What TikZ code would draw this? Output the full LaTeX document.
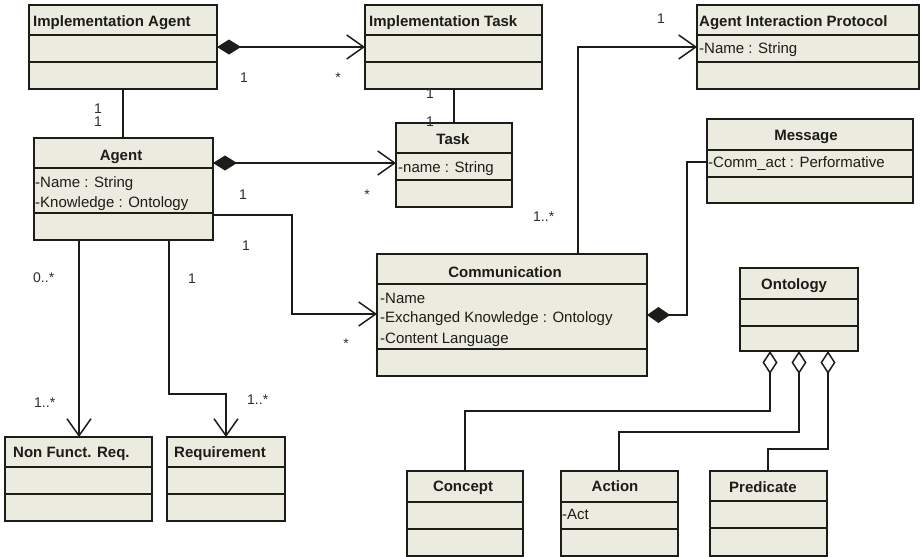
\documentclass[tikz,border=0pt]{standalone}
\usepackage{fontspec}
\setmainfont{Liberation Sans}
\usetikzlibrary{arrows.meta}
\definecolor{clsfill}{RGB}{236,235,224}
\definecolor{ink}{RGB}{28,28,24}
\definecolor{labelink}{RGB}{45,45,45}

% UML class box: name, left, top, right, bottom, first divider, second divider
\newcommand\umlclass[7]{%
  \node[clsbox, minimum width={#4-#2}, minimum height={#5-#3}] (#1) at (#2,#3) {};
  \draw[boxline] (#2,#6) -- (#4,#6) (#2,#7) -- (#4,#7);
}

\begin{document}
\begin{tikzpicture}[x=1pt,y=-1pt,
  clsbox/.style={draw=ink, fill=clsfill, line width=1.5pt, rectangle,
                 inner sep=0pt, outer sep=0pt, anchor=north west},
  boxline/.style={draw=ink, line width=1.5pt},
  title/.style={font=\fontsize{15}{15}\selectfont\bfseries, text=ink, inner sep=0pt},
  attr/.style={font=\fontsize{15}{15}\selectfont, text=ink, inner sep=0pt, anchor=base west},
  mult/.style={font=\fontsize{14}{14}\selectfont, text=labelink, inner sep=0pt, anchor=base},
  conn/.style={draw=ink, line width=1.5pt},
  navig/.style={conn, arrows={-Straight Barb[length=17pt,width=24pt]}},
  compnav/.style={conn, arrows={Diamond[length=24pt,width=15pt]-Straight Barb[length=17pt,width=24pt]}},
  comp/.style={conn, arrows={Diamond[length=23pt,width=16pt]-}},
  aggr/.style={conn, arrows={Diamond[open,fill=white,length=23pt,width=15pt]-}},
]
\fill[white] (0,0) rectangle (922,557);
\useasboundingbox (0,0) rectangle (922,557);

% class boxes
\umlclass{ia}{29}{5}{217}{89}{35}{62}
\umlclass{it}{365}{5}{542}{89}{35}{62}
\umlclass{aip}{697}{5}{919}{89}{35}{62}
\umlclass{msg}{707}{119}{913}{203}{150}{177}
\umlclass{agent}{34}{138}{213}{240}{168}{213}
\umlclass{task}{396}{123}{512}{207}{153}{180}
\umlclass{comm}{377}{254}{647}{376}{284}{349}
\umlclass{ont}{740}{268}{858}{351}{299}{326}
\umlclass{nfr}{5}{437}{152}{521}{467}{494}
\umlclass{req}{167}{437}{285}{521}{467}{494}
\umlclass{concept}{407}{471}{523}{556}{502}{529}
\umlclass{action}{561}{471}{678}{556}{502}{529}
\umlclass{pred}{710}{471}{827}{556}{501}{528}

% class names
\node[title, anchor=base west] (iat) at (33,26) {Implementation Agent};
\node[title, anchor=base west] (itt) at (369,26) {Implementation Task};
\node[title, anchor=base west] (aipt) at (699,26) {Agent Interaction Protocol};
\node[title, anchor=base] (msgt) at (806,140) {Message};
\node[title, anchor=base] (agentt) at (121,160) {Agent};
\node[title, anchor=base] (taskt) at (453,144) {Task};
\node[title, anchor=base] (commt) at (505,277) {Communication};
\node[title, anchor=base west] (ontt) at (761,289) {Ontology};
\node[title, anchor=base west] (nfrt) at (13,457) {Non Funct. Req.};
\node[title, anchor=base west] (reqt) at (174,457) {Requirement};
\node[title, anchor=base] (conceptt) at (463,491) {Concept};
\node[title, anchor=base] (actiont) at (615,491) {Action};
\node[title, anchor=base west] (predt) at (729,492) {Predicate};

% attributes
\node[attr] (a1) at (35,187) {-Name : String};
\node[attr] (a2) at (35,207) {-Knowledge : Ontology};
\node[attr] (t1) at (398,172) {-name : String};
\node[attr] (p1) at (699,53) {-Name : String};
\node[attr] (m1) at (708,167) {-Comm\_act : Performative};
\node[attr] (c1) at (380,303) {-Name};
\node[attr] (c2) at (380,322) {-Exchanged Knowledge : Ontology};
\node[attr] (c3) at (380,343) {-Content Language};
\node[attr] (x1) at (562,519) {-Act};

% associations
\draw[compnav] (ia.east |- 0,47) -- (it.west |- 0,47);
\draw[conn] (ia.south) -- (ia.south |- agent.north);
\draw[conn] (task.north |- it.south) -- (task.north);
\draw[compnav] (agent.east |- 0,163) -- (task.west |- 0,163);
\draw[navig] (agent.east |- 0,215) -| (292,314) -- (comm.west |- 0,314);
\draw[navig] (comm.north -| 578,0) |- (aip.west |- 0,47);
\draw[comp] (comm.east |- 0,315) -| (687,162) -- (msg.west |- 0,162);
\draw[navig] (agent.south -| 79,0) -- (nfr.north -| 79,0);
\draw[navig] (agent.south -| 169,0) |- (226,394) -- (req.north -| 226,0);
\draw[aggr] (ont.south -| 770,0) |- (465,411) -- (concept.north);
\draw[aggr] (ont.south -| 799,0) |- (619,432) -- (action.north -| 619,0);
\draw[aggr] (ont.south -| 828,0) |- (768,449) -- (pred.north -| 768,0);

% multiplicities
\node[mult] (m-ia-it) at (244,82) {1};
\node[mult] (m-it-ia) at (338,82) {*};
\node[mult] (m-ia-ag) at (98,113) {1};
\node[mult] (m-ag-ia) at (98,126) {1};
\node[mult] (m-it-tk) at (430,98) {1};
\node[mult] (m-tk-it) at (430,126) {1};
\node[mult] (m-ag-tk) at (243,199) {1};
\node[mult] (m-tk-ag) at (367,199) {*};
\node[mult] (m-ag-cm) at (246,250) {1};
\node[mult] (m-cm-ag) at (346,348) {*};
\node[mult, anchor=base west] (m-cm-ip) at (533,221) {1..*};
\node[mult] (m-ip-cm) at (661,23) {1};
\node[mult, anchor=base west] (m-ag-nf) at (33,282) {0..*};
\node[mult, anchor=base west] (m-nf-ag) at (34,407) {1..*};
\node[mult] (m-ag-rq) at (192,283) {1};
\node[mult, anchor=base west] (m-rq-ag) at (247,404) {1..*};
\end{tikzpicture}
\end{document}
